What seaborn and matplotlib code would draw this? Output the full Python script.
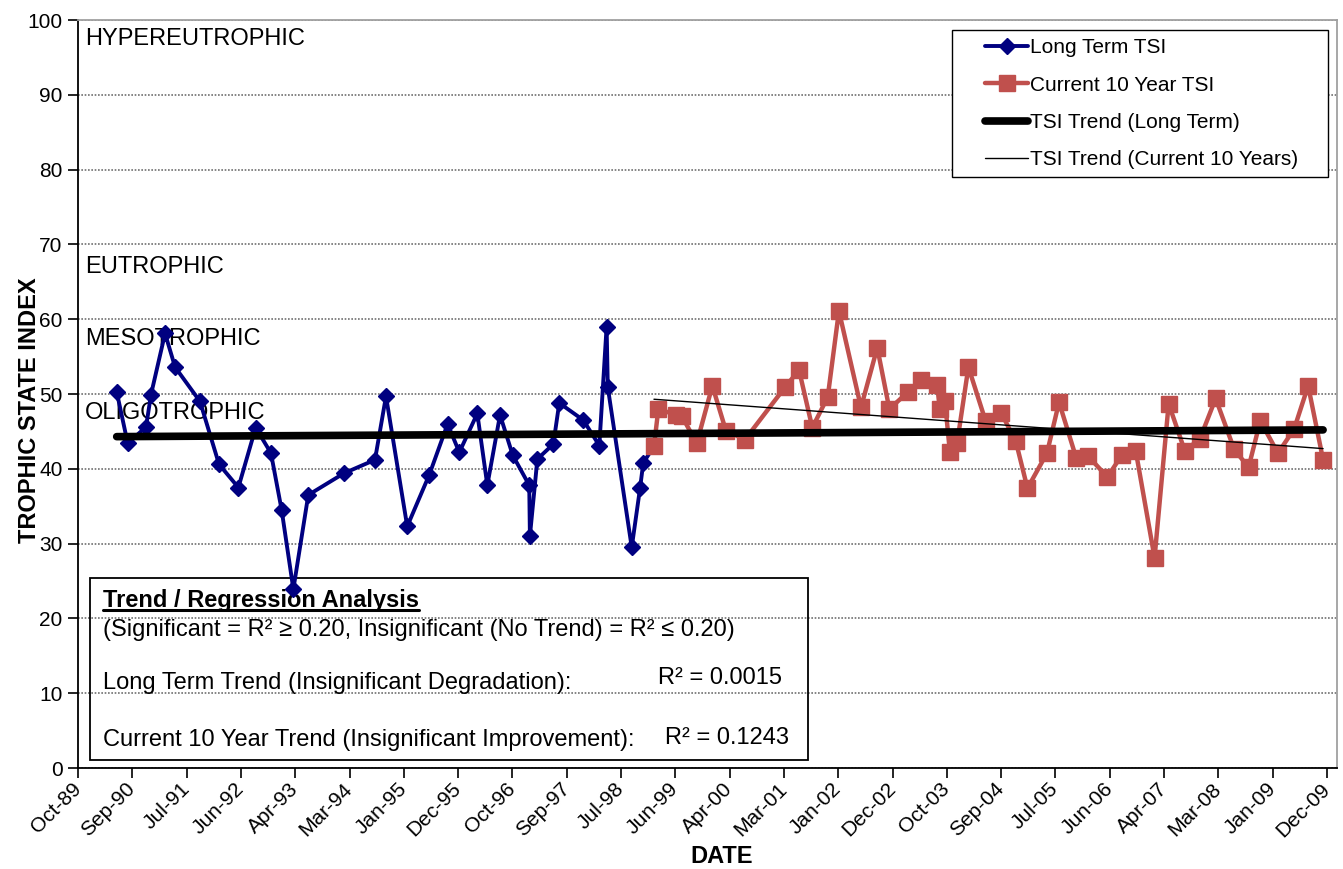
import numpy as np
import pandas as pd
import matplotlib
matplotlib.use("Agg")
import matplotlib.pyplot as plt
import matplotlib.dates as mdates
from matplotlib.patches import Rectangle
from matplotlib.lines import Line2D
from matplotlib.legend_handler import HandlerLine2D
import seaborn as sns

# long term TSI samples (before the current 10 year window)
long_dates = ["1990-06-05", "1990-08-09", "1990-11-25", "1990-12-24", "1991-03-17",
              "1991-05-15", "1991-10-09", "1992-01-29", "1992-05-22", "1992-09-01",
              "1992-11-30", "1993-02-01", "1993-04-11", "1993-07-08", "1994-02-03",
              "1994-08-05", "1994-10-09", "1995-02-11", "1995-06-21", "1995-10-07",
              "1995-12-15", "1996-03-30", "1996-05-28", "1996-08-11", "1996-10-25",
              "1997-01-30", "1997-02-03", "1997-03-19", "1997-06-21", "1997-07-26",
              "1997-12-15", "1998-03-19", "1998-05-01", "1998-05-08", "1998-09-26",
              "1998-11-14", "1998-12-03"]
long_tsi = [50.3, 43.4, 45.6, 49.9, 58.1, 53.6, 49.0, 40.6, 37.5, 45.5,
            42.1, 34.5, 23.9, 36.5, 39.4, 41.2, 49.7, 32.3, 39.2, 46.0,
            42.2, 47.4, 37.8, 47.2, 41.8, 37.8, 31.0, 41.3, 43.3, 48.8,
            46.5, 43.1, 59.0, 50.9, 29.5, 37.4, 40.8]

# current 10 year TSI samples
cur_dates = ["1999-02-04", "1999-03-02", "1999-06-14", "1999-07-17", "1999-10-14",
             "2000-01-14", "2000-04-03", "2000-07-24", "2001-03-17", "2001-06-08",
             "2001-08-25", "2001-11-24", "2002-01-29", "2002-06-08", "2002-09-12",
             "2002-11-22", "2003-03-14", "2003-05-28", "2003-08-30", "2003-09-17",
             "2003-10-16", "2003-11-14", "2003-12-26", "2004-03-02", "2004-06-11",
             "2004-09-10", "2004-12-06", "2005-02-13", "2005-06-08", "2005-08-18",
             "2005-11-28", "2006-02-05", "2006-05-30", "2006-08-22", "2006-11-13",
             "2007-03-04", "2007-05-26", "2007-08-29", "2007-11-26", "2008-02-27",
             "2008-06-15", "2008-09-08", "2008-11-16", "2009-02-28", "2009-06-03",
             "2009-08-25", "2009-11-21"]
cur_tsi = [43.0, 48.0, 47.2, 47.1, 43.4, 51.1, 45.1, 43.9, 50.9, 53.2,
           45.5, 49.6, 61.1, 48.2, 56.2, 48.0, 50.3, 51.9, 51.2, 48.0,
           49.0, 42.2, 43.4, 53.6, 46.4, 47.5, 43.7, 37.4, 42.1, 48.9,
           41.4, 41.7, 38.9, 41.8, 42.4, 28.1, 48.7, 42.4, 44.0, 49.4,
           42.6, 40.2, 46.4, 42.1, 45.3, 51.1, 41.2]

# trend line end values (start / end of each period)
trend_long_tsi = [44.3, 45.2]
trend_cur_tsi = [49.3, 42.7]

zone_labels = ["HYPEREUTROPHIC", "EUTROPHIC", "MESOTROPHIC", "OLIGOTROPHIC"]
zone_y = [97.4, 67.0, 57.3, 47.4]

r2_long = "0.0015"
r2_cur = "0.1243"

axis_start = pd.Timestamp("1989-10-20")
tick_step_days = 320
n_ticks = 24

sns.set_style("white")
plt.rcParams["font.family"] = ["Liberation Sans", "DejaVu Sans"]
plt.rcParams["text.color"] = "black"
plt.rcParams["axes.labelcolor"] = "black"
plt.rcParams["xtick.color"] = "black"
plt.rcParams["ytick.color"] = "black"

fig = plt.figure(figsize=(13.43, 8.69), dpi=100)
ax = fig.add_axes([78 / 1343, 101 / 869, 1259 / 1343, 748 / 869])

blue = "#000080"
red = "#C0504D"

ld = pd.to_datetime(long_dates + [cur_dates[0]])
cd = pd.to_datetime(cur_dates)

sns.lineplot(x=ld, y=long_tsi + [cur_tsi[0]], ax=ax, estimator=None, color=blue,
             linewidth=2.8, marker="D", markersize=8.5, markeredgecolor=blue,
             markeredgewidth=1, label="Long Term TSI", zorder=3)
sns.lineplot(x=cd, y=cur_tsi, ax=ax, estimator=None, color=red,
             linewidth=3.2, marker="s", markersize=11, markeredgecolor=red,
             markeredgewidth=1, label="Current 10 Year TSI", zorder=4)
sns.lineplot(x=[ld[0], cd[-1]], y=trend_long_tsi, ax=ax, estimator=None,
             color="black", linewidth=5.5, solid_capstyle="round",
             label="TSI Trend (Long Term)", zorder=5)
sns.lineplot(x=[cd[0], cd[-1]], y=trend_cur_tsi, ax=ax, estimator=None,
             color="black", linewidth=1, label="TSI Trend (Current 10 Years)", zorder=6)

ax.set_ylim(0, 100)
ax.set_yticks(np.arange(0, 101, 10))
ax.set_xlim(axis_start, axis_start + pd.Timedelta(days=7419))
ticks = [axis_start + pd.Timedelta(days=tick_step_days * k) for k in range(n_ticks)]
ax.set_xticks(ticks)
ax.xaxis.set_major_formatter(mdates.DateFormatter("%b-%y"))

ax.yaxis.grid(True, color="#6f6f6f", linestyle=(0, (1, 1)), linewidth=1.2)
ax.xaxis.grid(False)
ax.set_axisbelow(True)

for side in ["left", "bottom"]:
    ax.spines[side].set_color("black")
    ax.spines[side].set_linewidth(1.3)
for side in ["top", "right"]:
    ax.spines[side].set_color("#a0a0a0")
    ax.spines[side].set_linewidth(1.3)

ax.tick_params(axis="both", which="major", direction="out", length=7, width=1.2,
               color="black", labelsize=15, bottom=True, left=True, pad=4)
ax.tick_params(axis="x", pad=6)
for lbl in ax.get_xticklabels():
    lbl.set_rotation(45)
    lbl.set_ha("right")
    lbl.set_va("center")
    lbl.set_rotation_mode("anchor")

ax.set_xlabel("DATE", fontsize=17, fontweight="bold")
ax.xaxis.set_label_coords(0.511, -0.103)
ax.set_ylabel("TROPHIC STATE INDEX", fontsize=17, fontweight="bold")
ax.yaxis.set_label_coords(-0.029, 0.479)

for txt, yv in zip(zone_labels, zone_y):
    ax.text(0.0056, yv, txt, transform=ax.get_yaxis_transform(), fontsize=17,
            va="center", ha="left", zorder=2)

# regression summary box
ax.add_patch(Rectangle((0.0095, 0.0107), 0.5703, 0.2433, transform=ax.transAxes,
                       fill=False, edgecolor="black", linewidth=1.3, zorder=2))
title = ax.text(0.0199, 0.2233, "Trend / Regression Analysis", transform=ax.transAxes,
                fontsize=17, fontweight="bold", va="center", ha="left", zorder=2)
ax.text(0.0199, 0.1845,
        "(Significant = R² ≥ 0.20, Insignificant (No Trend) = R² ≤ 0.20)",
        transform=ax.transAxes, fontsize=17, va="center", ha="left", zorder=2)
ax.text(0.0199, 0.1136, "Long Term Trend (Insignificant Degradation):",
        transform=ax.transAxes, fontsize=17, va="center", ha="left", zorder=2)
ax.text(0.4607, 0.1203, "R² = " + r2_long, transform=ax.transAxes, fontsize=17,
        va="center", ha="left", zorder=2)
ax.text(0.0199, 0.0374, "Current 10 Year Trend (Insignificant Improvement):",
        transform=ax.transAxes, fontsize=17, va="center", ha="left", zorder=2)
ax.text(0.4662, 0.0401, "R² = " + r2_cur, transform=ax.transAxes, fontsize=17,
        va="center", ha="left", zorder=2)

handles, labels = ax.get_legend_handles_labels()
leg = ax.legend(handles, labels, loc="upper right",
                bbox_to_anchor=(0.6942, 0.70, 0.2987, 0.2866), mode="expand",
                fontsize=15, handlelength=3.25, handletextpad=0.1, labelspacing=0.875,
                borderpad=0.4, borderaxespad=0, frameon=True, fancybox=False,
                edgecolor="black", framealpha=1,
                handler_map={Line2D: HandlerLine2D(xpad=1.19)})
leg.get_frame().set_linewidth(1.0)

# underline the box heading
fig.canvas.draw()
bb = title.get_window_extent().transformed(fig.transFigure.inverted())
uy = bb.y0 + 2 / 869
fig.add_artist(Line2D([bb.x0, bb.x1], [uy, uy], color="black", linewidth=2.2))

fig.savefig("out.png", dpi=100)
